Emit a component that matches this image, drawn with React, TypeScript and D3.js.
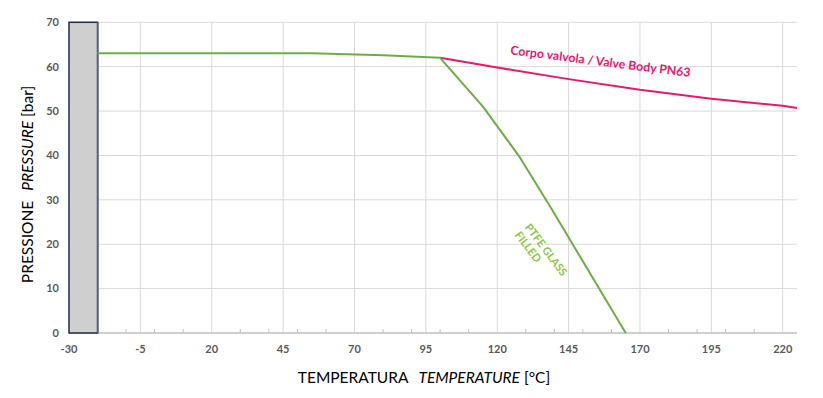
import React from "react";
import * as d3 from "d3";

const xTicks = [-30, -5, 20, 45, 70, 95, 120, 145, 170, 195, 220];
const xMinorTicks = [-20, -10, 0, 10, 30, 40, 50, 60, 80, 90, 100, 110, 130, 140, 150, 160, 180, 190, 200, 210];
const yTicks = [0, 10, 20, 30, 40, 50, 60, 70];

const bodyTemps = [100, 120, 145, 170, 195, 220, 225];
const bodyPress = [62, 59.8, 57.2, 54.8, 52.8, 51.2, 50.7];

const ptfeTemps = [-20, 55, 80, 100, 115, 128, 139, 165];
const ptfePress = [63, 63, 62.6, 62, 51, 39.5, 28, 0];

const excludedRange = [-30, -20];

const W = 823;
const H = 398;
const FONT = "Lato, 'Open Sans', sans-serif";

export default function App() {
  const x = d3.scaleLinear().domain([-30, 225]).range([69, 797]);
  const y = d3.scaleLinear().domain([0, 70]).range([333, 22.3]);

  const line = d3
    .line<[number, number]>()
    .x((d) => x(d[0]))
    .y((d) => y(d[1]));

  const bodyData = bodyTemps.map((t, i) => [t, bodyPress[i]] as [number, number]);
  const ptfeData = ptfeTemps.map((t, i) => [t, ptfePress[i]] as [number, number]);

  return (
    <svg
      width={W}
      height={H}
      style={{ position: "absolute", left: 0, top: 0, background: "#fff" }}
      fontFamily={FONT}
    >
      <rect x={0} y={0} width={W} height={H} fill="#fff" />
      {yTicks.slice(1).map((v) => (
        <line key={"hy" + v} x1={x(-30)} x2={x(225)} y1={y(v)} y2={y(v)} stroke="#d9d9d9" strokeWidth={1} />
      ))}
      {xTicks.slice(1).map((v) => (
        <line key={"vx" + v} x1={x(v)} x2={x(v)} y1={y(70)} y2={y(0)} stroke="#d9d9d9" strokeWidth={1} />
      ))}
      <line x1={x(-30)} x2={x(225)} y1={y(0)} y2={y(0)} stroke="#bfbfbf" strokeWidth={1.5} />
      {xMinorTicks.map((v) => (
        <line key={"mt" + v} x1={x(v)} x2={x(v)} y1={y(0) - 4} y2={y(0)} stroke="#bfbfbf" strokeWidth={1} />
      ))}
      <rect
        x={x(excludedRange[0])}
        y={y(70)}
        width={x(excludedRange[1]) - x(excludedRange[0])}
        height={y(0) - y(70)}
        fill="#d0cfd0"
        stroke="#1f2b47"
        strokeWidth={1.5}
      />
      <line
        x1={x(excludedRange[1]) + 0.5}
        x2={x(excludedRange[1]) + 0.5}
        y1={y(70)}
        y2={y(0)}
        stroke="#6e7a90"
        strokeWidth={1.5}
      />
      <path d={line(bodyData) || ""} fill="none" stroke="#e6196c" strokeWidth={2} strokeLinejoin="round" />
      <path d={line(ptfeData) || ""} fill="none" stroke="#6ead45" strokeWidth={2} strokeLinejoin="round" />

      {yTicks.map((v) => (
        <text key={"yl" + v} x={59} y={y(v)} dy="0.35em" textAnchor="end" fontSize={11} fontWeight={700} fill="#595959">
          {v}
        </text>
      ))}
      {xTicks.map((v) => (
        <text key={"xl" + v} x={x(v)} y={349} dy="0.35em" textAnchor="middle" fontSize={11} fontWeight={700} fill="#595959">
          {v}
        </text>
      ))}

      <text
        transform={`translate(${x(124.5)},${y(62.8)}) rotate(7.2)`}
        fontSize={12.3}
        fontWeight={700}
        fill="#e6196c"
      >
        Corpo valvola / Valve Body PN63
      </text>
      <g transform={`translate(${x(129.5)},${y(23.8)}) rotate(53)`}>
        <text x={0} y={0} fontSize={11} fontWeight={700} fill="#8cc63f">
          PTFE GLASS
        </text>
        <text x={0} y={0} dy="1.15em" fontSize={11} fontWeight={700} fill="#8cc63f">
          FILLED
        </text>
      </g>

      <text x={424} y={378} dy="0.35em" textAnchor="middle" fontSize={15.5} fill="#000">
        <tspan>TEMPERATURA</tspan>
        <tspan dx={10} fontStyle="italic">TEMPERATURE</tspan>
        <tspan dx={4}>[°C]</tspan>
      </text>
      <text
        transform={`translate(28,184.5) rotate(-90)`}
        dy="0.35em"
        textAnchor="middle"
        fontSize={15.5}
        fill="#000"
      >
        <tspan>PRESSIONE</tspan>
        <tspan dx={10} fontStyle="italic">PRESSURE</tspan>
        <tspan dx={4}>[bar]</tspan>
      </text>
    </svg>
  );
}
